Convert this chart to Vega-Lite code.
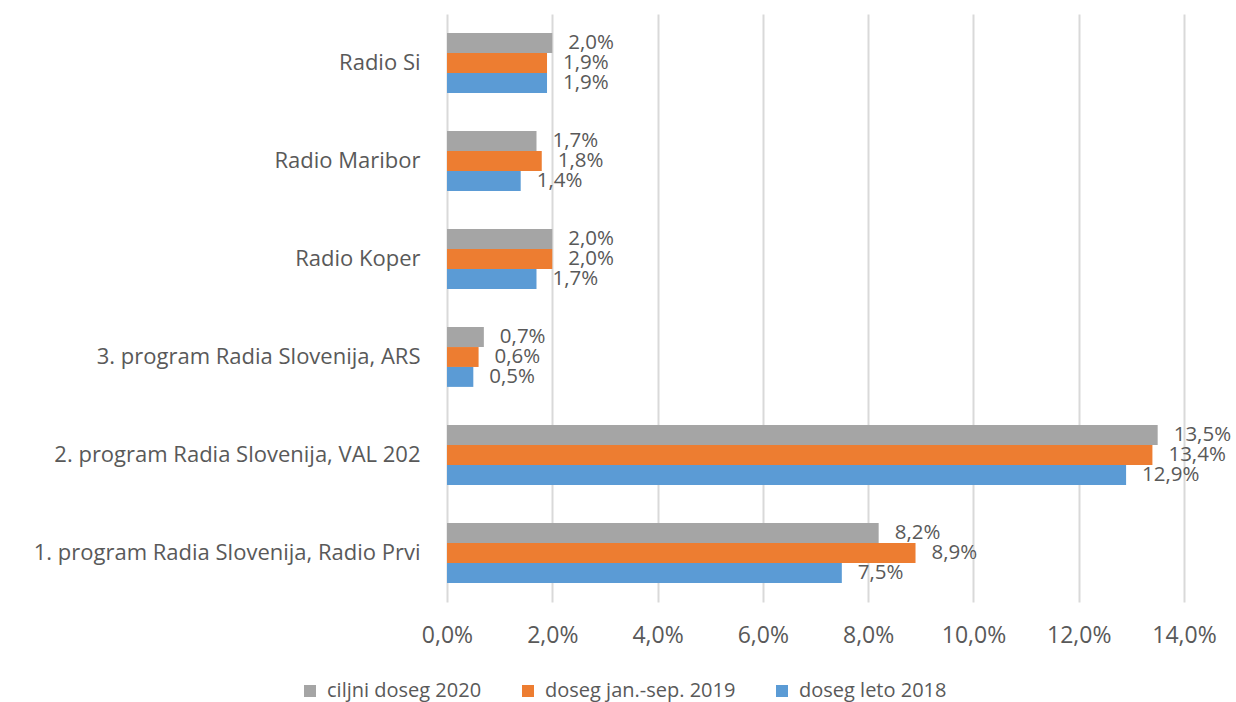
{
  "$schema": "https://vega.github.io/schema/vega-lite/v6.json",
  "width": 737,
  "height": 588,
  "autosize": "none",
  "padding": {"left": 447, "top": 14, "right": 52, "bottom": 100},
  "background": "white",
  "data": {
    "values": [
      {"postaja": "Radio Si", "serija": "ciljni doseg 2020", "vrednost": 0.020},
      {"postaja": "Radio Si", "serija": "doseg jan.-sep. 2019", "vrednost": 0.019},
      {"postaja": "Radio Si", "serija": "doseg leto 2018", "vrednost": 0.019},
      {"postaja": "Radio Maribor", "serija": "ciljni doseg 2020", "vrednost": 0.017},
      {"postaja": "Radio Maribor", "serija": "doseg jan.-sep. 2019", "vrednost": 0.018},
      {"postaja": "Radio Maribor", "serija": "doseg leto 2018", "vrednost": 0.014},
      {"postaja": "Radio Koper", "serija": "ciljni doseg 2020", "vrednost": 0.020},
      {"postaja": "Radio Koper", "serija": "doseg jan.-sep. 2019", "vrednost": 0.020},
      {"postaja": "Radio Koper", "serija": "doseg leto 2018", "vrednost": 0.017},
      {"postaja": "3. program Radia Slovenija, ARS", "serija": "ciljni doseg 2020", "vrednost": 0.007},
      {"postaja": "3. program Radia Slovenija, ARS", "serija": "doseg jan.-sep. 2019", "vrednost": 0.006},
      {"postaja": "3. program Radia Slovenija, ARS", "serija": "doseg leto 2018", "vrednost": 0.005},
      {"postaja": "2. program Radia Slovenija, VAL 202", "serija": "ciljni doseg 2020", "vrednost": 0.135},
      {"postaja": "2. program Radia Slovenija, VAL 202", "serija": "doseg jan.-sep. 2019", "vrednost": 0.134},
      {"postaja": "2. program Radia Slovenija, VAL 202", "serija": "doseg leto 2018", "vrednost": 0.129},
      {"postaja": "1. program Radia Slovenija, Radio Prvi", "serija": "ciljni doseg 2020", "vrednost": 0.082},
      {"postaja": "1. program Radia Slovenija, Radio Prvi", "serija": "doseg jan.-sep. 2019", "vrednost": 0.089},
      {"postaja": "1. program Radia Slovenija, Radio Prvi", "serija": "doseg leto 2018", "vrednost": 0.075}
    ]
  },
  "transform": [
    {"calculate": "replace(format(datum.vrednost, '.1%'), '.', ',')", "as": "oznaka"}
  ],
  "encoding": {
    "y": {
      "field": "postaja",
      "type": "nominal",
      "sort": ["Radio Si", "Radio Maribor", "Radio Koper", "3. program Radia Slovenija, ARS", "2. program Radia Slovenija, VAL 202", "1. program Radia Slovenija, Radio Prvi"],
      "scale": {"paddingInner": 0.39, "paddingOuter": 0.195},
      "axis": {
        "title": null,
        "domain": false,
        "ticks": false,
        "labelPadding": 27,
        "labelFontSize": 22,
        "labelFont": "Open Sans",
        "labelColor": "#595959",
        "labelLimit": 500
      }
    },
    "yOffset": {
      "field": "serija",
      "type": "nominal",
      "sort": ["ciljni doseg 2020", "doseg jan.-sep. 2019", "doseg leto 2018"],
      "scale": {"paddingInner": 0, "paddingOuter": 0}
    },
    "x": {
      "field": "vrednost",
      "type": "quantitative",
      "scale": {"domain": [0, 0.14], "nice": false},
      "axis": {
        "title": null,
        "values": [0, 0.02, 0.04, 0.06, 0.08, 0.1, 0.12, 0.14],
        "labelExpr": "replace(format(datum.value, '.1%'), '.', ',')",
        "labelFlush": false,
        "labelOverlap": false,
        "domain": false,
        "ticks": false,
        "grid": true,
        "gridColor": "#D9D9D9",
        "gridWidth": 2,
        "labelPadding": 22,
        "labelFontSize": 23,
        "labelFont": "Open Sans",
        "labelColor": "#595959"
      }
    }
  },
  "layer": [
    {
      "mark": {"type": "bar"},
      "encoding": {
        "color": {
          "field": "serija",
          "type": "nominal",
          "sort": ["ciljni doseg 2020", "doseg jan.-sep. 2019", "doseg leto 2018"],
          "scale": {
            "domain": ["ciljni doseg 2020", "doseg jan.-sep. 2019", "doseg leto 2018"],
            "range": ["#A5A5A5", "#ED7D31", "#5B9BD5"]
          },
          "legend": {
            "title": null,
            "orient": "none",
            "direction": "horizontal",
            "legendX": -147,
            "legendY": 667,
            "symbolType": "square",
            "symbolSize": 144,
            "symbolStrokeWidth": 0,
            "symbolOpacity": 1,
            "labelFont": "Open Sans",
            "labelFontSize": 20,
            "labelColor": "#595959",
            "labelOffset": 7,
            "columnPadding": 36,
            "labelLimit": 400
          }
        }
      }
    },
    {
      "mark": {"type": "text", "align": "left", "baseline": "middle", "dx": 16, "font": "Open Sans", "fontSize": 20.5, "color": "#595959"},
      "encoding": {"text": {"field": "oznaka"}}
    }
  ],
  "config": {"view": {"stroke": null}}
}
